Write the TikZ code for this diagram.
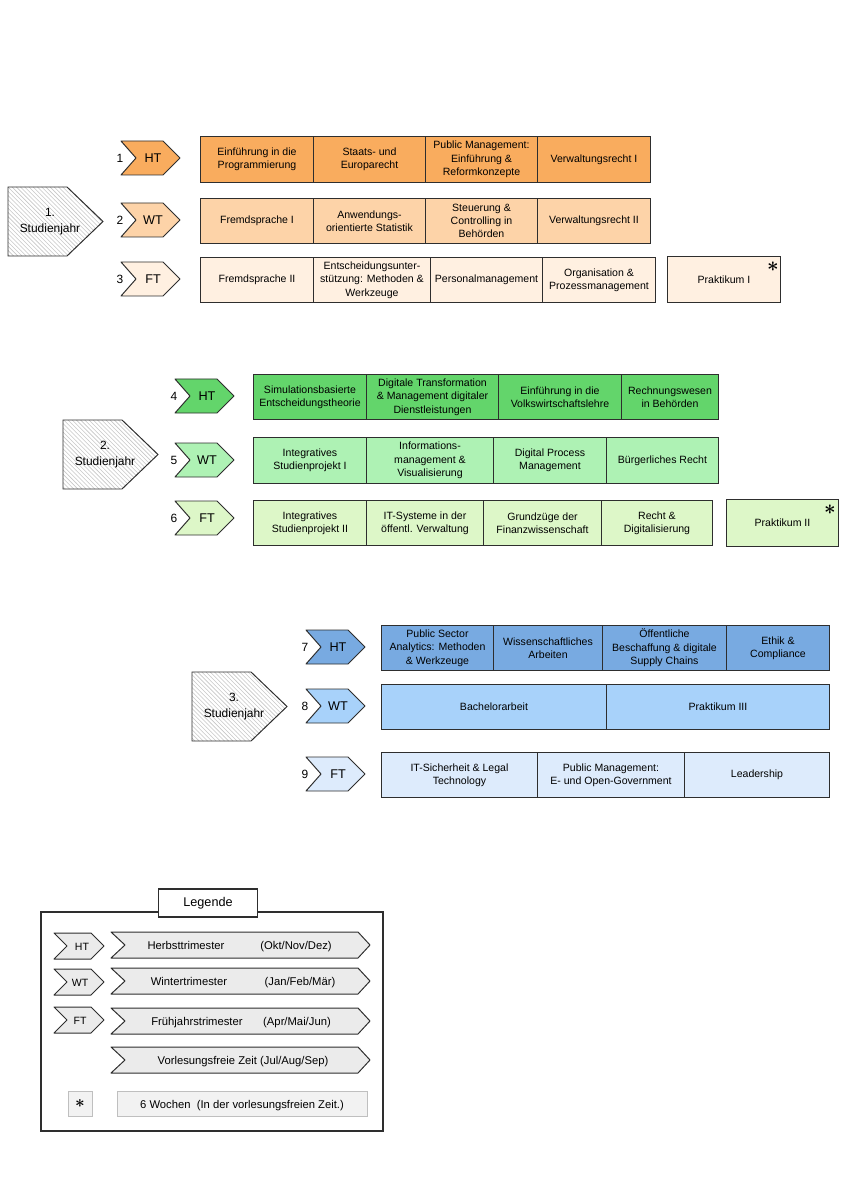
\documentclass[tikz,border=0pt]{standalone}
\usepackage{fontspec}
\setmainfont{Liberation Sans}
\usetikzlibrary{patterns}
\tikzset{>=latex}
\definecolor{lineCol}{HTML}{2E2E2E}
\definecolor{orangeHT}{HTML}{F9AC5E}
\definecolor{orangeWT}{HTML}{FDD3A8}
\definecolor{orangeFT}{HTML}{FFF0E1}
\definecolor{greenHT}{HTML}{63D56B}
\definecolor{greenWT}{HTML}{AEF2B4}
\definecolor{greenFT}{HTML}{DDF7C8}
\definecolor{blueHT}{HTML}{78AAE1}
\definecolor{blueWT}{HTML}{A8D2FA}
\definecolor{blueFT}{HTML}{DDEBFC}
\colorlet{legendcol}{black!8}
\def\pxl{0.025cm}
\newcommand\coursefont{\fontsize{7.5}{9.5}\selectfont}
\tikzstyle{course}=[draw=lineCol,line width=0.7,align=center,inner sep=1,font=\coursefont,anchor=north west]
\tikzstyle{termshape}=[draw=lineCol,line width=0.7,line join=round]
\tikzset{
  yearshape/.style={draw=lineCol,line width=0.7,pattern=north west lines,pattern color=black!22},
  yeartext/.style={align=center,font=\fontsize{8.5}{11}\selectfont},
  termtext/.style={font=\fontsize{9}{9}\selectfont},
  numtext/.style={font=\fontsize{8.5}{9}\selectfont},
  startext/.style={inner sep=0,font=\fontsize{15}{15}\selectfont\boldmath},
  legendbox/.style={draw=black!25,fill=black!5,line width=0.6},
  legendtext/.style={font=\fontsize{8}{9}\selectfont,text height=1.6ex,text depth=0.4ex}
}
% one row of courses: id, top, bottom, fill, list x1/x2/text
\newcommand\courseRow[5]{
  \foreach \xa/\xb/\txt [count=\k] in {#5}{
    \node[course,fill=#4,minimum width={(\xb-\xa)*\pxl},minimum height={(#3-#2)*\pxl}] (c#1-\k) at (\xa,#2) {\txt};
  }
}
% trimester chevron: name, x left, y centre, fill, label, number
\newcommand\term[6]{
  \draw[termshape,fill=#4] (#2,#3-17) -- ++(42,0) -- ++(17,17) -- ++(-17,17) -- ++(-42,0) -- ++(15,-17) -- cycle;
  \node[termtext] (#1) at (#2+32,#3) {#5};
  \node[numtext] (#1n) at (#2-1,#3) {#6};
}
% year pentagon: name, x left, top, bottom, text
\newcommand\yearBox[5]{
  \draw[yearshape] (#2,#3) -- ++(59,0) -- (#2+95,{(#3+#4)/2}) -- (#2+59,#4) -- (#2,#4) -- cycle;
  \node[yeartext] (#1) at (#2+42,{(#3+#4)/2}) {#5};
}
% legend arrows
\newcommand\legChevron[4]{
  \draw[termshape,fill=legendcol] (54,#2-13) -- ++(37,0) -- ++(13,13) -- ++(-13,13) -- ++(-37,0) -- ++(13,-13) -- cycle;
  \node[legendtext,font=\fontsize{7.5}{8}\selectfont] (#1) at (#3,#2) {#4};
}
\newcommand\legArrow[2]{
  \draw[termshape,fill=legendcol] (111,#2-13) -- ++(247,0) -- ++(12,13) -- ++(-12,13) -- ++(-247,0) -- ++(14,-13) -- cycle;
  \coordinate (#1) at (240,#2);
}

\begin{document}
\begin{tikzpicture}[x=\pxl,y=-\pxl]
  \useasboundingbox (0,0) rectangle (846,1200);

  % YEAR 1
  \yearBox{y1}{8}{187}{256}{1.\\Studienjahr}
  \term{t1}{121}{158}{orangeHT}{HT}{1}
  \term{t2}{121}{220}{orangeWT}{WT}{2}
  \term{t3}{121}{279}{orangeFT}{FT}{3}
  \courseRow{1}{136}{182}{orangeHT}{200/313/{Einführung in die\\Programmierung}, 313/425/{Staats- und\\Europarecht},
    425/537/{Public Management:\\Einführung \&\\Reformkonzepte}, 537/650/{Verwaltungsrecht I}}
  \courseRow{2}{198}{243}{orangeWT}{200/313/{Fremdsprache I}, 313/425/{Anwendungs-\\orientierte Statistik},
    425/537/{Steuerung \&\\Controlling in\\Behörden}, 537/650/{Verwaltungsrecht II}}
  \courseRow{3}{257}{302}{orangeFT}{200/313/{Fremdsprache II}, 313/430/{Entscheidungsunter-\\stützung: Methoden \&\\Werkzeuge},
    430/542/{Personalmanagement}, 542/655/{Organisation \&\\Prozessmanagement}}
  \node[course,fill=orangeFT,minimum width={113*\pxl},minimum height={46*\pxl}] (prak1) at (667,256) {Praktikum I};
  \node[startext] (prak1s) at ([shift={(-8,11)}]prak1.north east) {$\ast$};

  % YEAR 2
  \yearBox{y2}{63}{420}{489}{2.\\Studienjahr}
  \term{t4}{175}{396}{greenHT}{HT}{4}
  \term{t5}{175}{460}{greenWT}{WT}{5}
  \term{t6}{175}{518}{greenFT}{FT}{6}
  \courseRow{4}{374}{419}{greenHT}{253/366/{Simulationsbasierte\\Entscheidungstheorie}, 366/498/{Digitale Transformation\\\& Management digitaler\\Dienstleistungen},
    498/621/{Einführung in die\\Volkswirtschaftslehre}, 621/718/{Rechnungswesen\\in Behörden}}
  \courseRow{5}{437}{483}{greenWT}{253/366/{Integratives\\Studienprojekt I}, 366/493/{Informations-\\management \&\\Visualisierung},
    493/606/{Digital Process\\Management}, 606/718/{Bürgerliches Recht}}
  \courseRow{6}{500}{545}{greenFT}{253/366/{Integratives\\Studienprojekt II}, 366/483/{IT-Systeme in der\\öffentl. Verwaltung},
    483/601/{Grundzüge der\\Finanzwissenschaft}, 601/712/{Recht \&\\Digitalisierung}}
  \node[course,fill=greenFT,minimum width={112*\pxl},minimum height={47*\pxl}] (prak2) at (726,499) {Praktikum II};
  \node[startext] (prak2s) at ([shift={(-9,11)}]prak2.north east) {$\ast$};

  % YEAR 3
  \yearBox{y3}{192}{672}{741}{3.\\Studienjahr}
  \term{t7}{306}{647}{blueHT}{HT}{7}
  \term{t8}{306}{706}{blueWT}{WT}{8}
  \term{t9}{306}{774}{blueFT}{FT}{9}
  \courseRow{7}{625}{670}{blueHT}{381/493/{Public Sector\\Analytics: Methoden\\\& Werkzeuge}, 493/602/{Wissenschaftliches\\Arbeiten},
    602/726/{Öffentliche\\Beschaffung \& digitale\\Supply Chains}, 726/829/{Ethik \&\\Compliance}}
  \courseRow{8}{684}{729}{blueWT}{381/606/{Bachelorarbeit}, 606/829/{Praktikum III}}
  \courseRow{9}{752}{797}{blueFT}{381/537/{IT-Sicherheit \& Legal\\Technology}, 537/684/{Public Management:\\E- und Open-Government},
    684/829/{Leadership}}

  % LEGEND
  \draw[lineCol,line width=0.9] (41,912) rectangle (383,1131);
  \node[draw=lineCol,line width=0.8,fill=white,minimum width={99*\pxl},minimum height={28*\pxl},font=\fontsize{9}{10}\selectfont] (legende) at (208,903) {Legende};
  \legChevron{lht}{946}{82}{HT}
  \legChevron{lwt}{982}{80}{WT}
  \legChevron{lft}{1020}{80}{FT}
  \legArrow{la1}{945}
  \legArrow{la2}{981}
  \legArrow{la3}{1021}
  \legArrow{la4}{1060}
  \node[legendtext] (herbst) at (186,945) {Herbsttrimester};
  \node[legendtext] (herbstm) at (296,945) {(Okt/Nov/Dez)};
  \node[legendtext] (winter) at (189,981) {Wintertrimester};
  \node[legendtext] (winterm) at (300,981) {(Jan/Feb/Mär)};
  \node[legendtext] (fruehj) at (197,1021) {Frühjahrstrimester};
  \node[legendtext] (fruehjm) at (297,1021) {(Apr/Mai/Jun)};
  \node[legendtext] (frei) at (243,1060) {Vorlesungsfreie Zeit (Jul/Aug/Sep)};
  \node[legendbox,minimum width={24*\pxl},minimum height={25*\pxl},inner sep=0,font=\fontsize{12}{12}\selectfont\boldmath] (lstar) at (80,1104) {$\ast$};
  \node[legendbox,legendtext,minimum width={250*\pxl},minimum height={25*\pxl}] (lwochen) at (242,1104) {6 Wochen~~(In der vorlesungsfreien Zeit.)};

\end{tikzpicture}
\end{document}
